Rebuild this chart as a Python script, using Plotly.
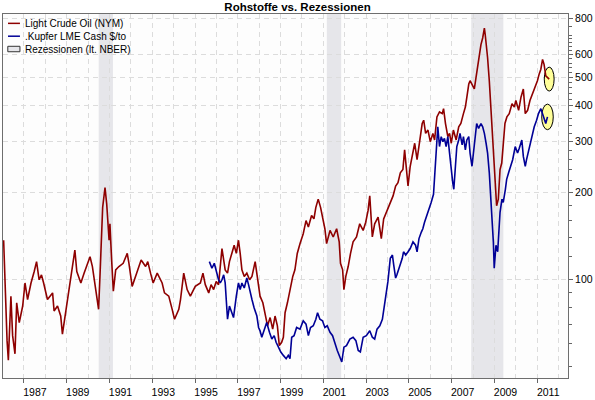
import datetime as dt
import math
import plotly.graph_objects as go

# ---------------- data ----------------
oil_years = [
    1986.05, 1986.11, 1986.16, 1986.21, 1986.27, 1986.39, 1986.47, 1986.58, 1986.66, 1986.78,
    1986.94, 1987.05, 1987.17, 1987.33, 1987.48, 1987.59, 1987.71, 1987.82, 1987.92, 1988.10,
    1988.34, 1988.41, 1988.57, 1988.72, 1988.80, 1988.88, 1989.03, 1989.16, 1989.27, 1989.38,
    1989.47, 1989.66, 1989.81, 1990.09, 1990.20, 1990.36, 1990.49, 1990.56, 1990.62, 1990.68,
    1990.79, 1990.87, 1990.98, 1991.02, 1991.10, 1991.18, 1991.29, 1991.44, 1991.64, 1991.83,
    1991.91, 1992.06, 1992.27, 1992.48, 1992.69, 1992.79, 1992.92, 1993.04, 1993.23, 1993.46,
    1993.57, 1993.77, 1993.93, 1994.04, 1994.24, 1994.32, 1994.47, 1994.63, 1994.78, 1995.01,
    1995.25, 1995.37, 1995.48, 1995.64, 1995.75, 1995.87, 1995.99, 1996.10, 1996.26, 1996.41,
    1996.52, 1996.61, 1996.72, 1996.83, 1996.93, 1997.03, 1997.11, 1997.19, 1997.30, 1997.42,
    1997.55, 1997.66, 1997.81, 1997.92, 1998.04, 1998.17, 1998.28, 1998.39, 1998.51, 1998.63,
    1998.74, 1998.85, 1998.94, 1999.05, 1999.13, 1999.21, 1999.32, 1999.44, 1999.57, 1999.67,
    1999.78, 1999.91, 2000.06, 2000.19, 2000.30, 2000.45, 2000.56, 2000.65, 2000.76, 2000.87,
    2000.96, 2001.07, 2001.15, 2001.31, 2001.46, 2001.62, 2001.74, 2001.80, 2001.90, 2001.96,
    2002.05, 2002.16, 2002.27, 2002.39, 2002.55, 2002.70, 2002.86, 2002.98, 2003.09, 2003.17,
    2003.29, 2003.40, 2003.56, 2003.71, 2003.82, 2003.95, 2004.13, 2004.26, 2004.38, 2004.49,
    2004.60, 2004.72, 2004.80, 2004.88, 2004.96, 2005.06, 2005.19, 2005.27, 2005.38, 2005.50,
    2005.62, 2005.69, 2005.78, 2005.89, 2006.00, 2006.12, 2006.20, 2006.31, 2006.43, 2006.56,
    2006.62, 2006.71, 2006.82, 2006.90, 2006.98, 2007.08, 2007.21, 2007.33, 2007.43, 2007.55,
    2007.64, 2007.71, 2007.80, 2007.86, 2007.95, 2008.06, 2008.14, 2008.22, 2008.30, 2008.37,
    2008.45, 2008.53, 2008.57, 2008.64, 2008.68, 2008.76, 2008.84, 2008.92, 2008.96, 2009.03,
    2009.10, 2009.18, 2009.26, 2009.34, 2009.41, 2009.49, 2009.58, 2009.69, 2009.82, 2009.93,
    2010.00, 2010.13, 2010.24, 2010.35, 2010.44, 2010.55, 2010.66, 2010.78, 2010.90, 2011.01,
    2011.09, 2011.17, 2011.25, 2011.32, 2011.40, 2011.48, 2011.56,
]
oil_values = [
    136.6, 99.7, 78.8, 61.4, 52.5, 87.5, 63.9, 55.3, 83.0, 70.9,
    80.9, 97.2, 85.2, 97.2, 106.5, 115.2, 99.7, 103.7, 97.2, 85.2,
    89.8, 77.8, 80.9, 74.7, 64.7, 70.9, 87.5, 99.7, 110.8, 126.3,
    106.5, 97.2, 105.1, 119.8, 110.8, 92.2, 78.8, 105.1, 143.9, 177.5,
    207.7, 182.2, 136.6, 155.7, 116.7, 91.0, 107.9, 110.8, 113.7, 123.0,
    113.7, 94.6, 105.1, 116.7, 110.8, 115.2, 105.1, 97.2, 105.1, 97.2,
    89.8, 87.5, 78.8, 72.8, 78.8, 85.2, 105.1, 92.2, 87.5, 94.6,
    97.2, 105.1, 95.9, 89.8, 95.9, 92.2, 98.4, 95.9, 127.9, 107.9,
    105.1, 115.2, 123.0, 131.3, 123.0, 136.6, 123.0, 107.9, 102.4, 105.1,
    99.7, 102.4, 115.2, 99.7, 87.5, 83.0, 76.7, 69.1, 73.8, 67.3,
    74.7, 69.1, 59.0, 60.6, 63.1, 76.7, 83.0, 92.2, 102.4, 107.9,
    123.0, 133.0, 143.9, 159.8, 151.7, 166.3, 161.9, 177.5, 189.5, 177.5,
    164.1, 149.7, 133.0, 147.7, 140.2, 149.7, 134.8, 113.7, 107.9, 92.2,
    102.4, 110.8, 123.0, 134.8, 140.2, 155.7, 147.7, 157.7, 172.9, 194.5,
    140.2, 155.7, 164.1, 138.4, 161.9, 170.7, 184.6, 194.5, 210.4, 216.0,
    233.7, 239.9, 280.7, 239.9, 210.4, 246.2, 273.5, 295.8, 259.5, 295.8,
    346.1, 355.3, 320.0, 328.5, 299.6, 320.0, 303.6, 364.8, 379.4, 374.5,
    389.5, 346.1, 311.7, 320.0, 295.8, 328.5, 303.6, 337.2, 346.1, 374.5,
    394.6, 426.9, 474.0, 486.6, 474.0, 455.7, 499.4, 554.6, 600.0, 649.0,
    684.0, 740.0, 702.0, 632.0, 584.6, 486.6, 384.4, 303.6, 259.5, 205.0,
    179.8, 189.4, 239.9, 252.7, 303.6, 346.1, 364.8, 374.5, 405.1, 394.6,
    415.8, 384.4, 426.9, 455.7, 374.5, 384.4, 415.8, 438.2, 461.8, 486.6,
    512.8, 533.3, 576.9, 554.6, 506.0, 499.4, 493.0,
]

copper_years = [
    1995.67, 1995.79, 1995.90, 1995.99, 1996.10, 1996.18, 1996.26, 1996.34, 1996.41, 1996.46,
    1996.52, 1996.61, 1996.72, 1996.80, 1996.93, 1997.03, 1997.11, 1997.19, 1997.30, 1997.42,
    1997.50, 1997.58, 1997.66, 1997.76, 1997.89, 1997.97, 1998.04, 1998.12, 1998.23, 1998.35,
    1998.48, 1998.59, 1998.70, 1998.79, 1998.90, 1999.01, 1999.13, 1999.26, 1999.36, 1999.44,
    1999.52, 1999.63, 1999.75, 1999.91, 2000.06, 2000.19, 2000.30, 2000.40, 2000.53, 2000.65,
    2000.73, 2000.84, 2000.96, 2001.07, 2001.18, 2001.31, 2001.43, 2001.54, 2001.65, 2001.77,
    2001.86, 2001.96, 2002.08, 2002.24, 2002.39, 2002.52, 2002.63, 2002.73, 2002.86, 2003.01,
    2003.17, 2003.29, 2003.40, 2003.51, 2003.64, 2003.76, 2003.82, 2003.92, 2004.02, 2004.13,
    2004.23, 2004.29, 2004.38, 2004.44, 2004.54, 2004.60, 2004.69, 2004.75, 2004.85, 2004.96,
    2005.06, 2005.19, 2005.31, 2005.38, 2005.47, 2005.58, 2005.65, 2005.73, 2005.84, 2005.93,
    2006.04, 2006.15, 2006.25, 2006.31, 2006.35, 2006.43, 2006.51, 2006.59, 2006.66, 2006.74,
    2006.82, 2006.90, 2006.98, 2007.05, 2007.10, 2007.18, 2007.24, 2007.33, 2007.39, 2007.49,
    2007.55, 2007.64, 2007.71, 2007.80, 2007.86, 2007.95, 2008.02, 2008.11, 2008.17, 2008.26,
    2008.37, 2008.45, 2008.53, 2008.61, 2008.68, 2008.76, 2008.84, 2008.89, 2008.95, 2008.99,
    2009.07, 2009.15, 2009.20, 2009.26, 2009.35, 2009.41, 2009.51, 2009.57, 2009.66, 2009.77,
    2009.85, 2009.97, 2010.08, 2010.16, 2010.28, 2010.35, 2010.44, 2010.50, 2010.63, 2010.75,
    2010.86, 2010.97, 2011.06, 2011.17, 2011.25, 2011.32, 2011.40, 2011.48,
]
copper_values = [
    115.2, 109.3, 113.7, 106.5, 99.7, 97.2, 99.7, 103.7, 97.2, 85.2,
    72.8, 80.9, 76.7, 73.8, 87.5, 97.2, 92.2, 97.2, 93.4, 101.1,
    95.9, 89.8, 85.2, 79.8, 74.7, 68.2, 66.4, 63.1, 67.3, 70.9,
    65.6, 62.2, 63.9, 60.6, 58.3, 56.1, 54.6, 53.2, 54.6, 53.2,
    63.1, 63.9, 68.2, 67.3, 71.9, 70.0, 63.9, 68.2, 69.1, 72.8,
    76.7, 72.8, 71.9, 68.2, 69.1, 65.6, 63.9, 59.8, 56.8, 53.9,
    51.8, 58.3, 59.0, 62.2, 63.1, 61.4, 56.8, 56.1, 63.1, 63.9,
    66.4, 63.1, 62.2, 67.3, 69.1, 72.8, 77.8, 86.4, 98.4, 118.3,
    121.4, 112.2, 101.1, 103.7, 109.3, 112.2, 118.3, 124.6, 121.4, 124.6,
    127.9, 134.8, 131.3, 124.6, 138.4, 145.8, 149.7, 157.7, 166.3, 175.1,
    184.6, 197.0, 266.4, 303.6, 337.2, 288.1, 311.7, 299.6, 307.6, 288.1,
    311.7, 273.5, 233.7, 216.0, 205.0, 239.9, 288.1, 303.6, 320.0, 292.0,
    311.7, 280.7, 303.6, 311.7, 273.5, 246.2, 273.5, 320.0, 346.1, 332.8,
    346.1, 337.2, 320.0, 295.8, 273.5, 233.7, 189.4, 170.7, 134.8, 109.3,
    131.3, 124.6, 149.7, 170.7, 189.4, 184.6, 205.0, 221.8, 233.7, 246.2,
    259.5, 288.1, 273.5, 284.4, 303.6, 266.4, 246.2, 259.5, 288.1, 311.7,
    337.2, 355.3, 374.5, 389.5, 374.5, 364.8, 346.1, 364.8,
]

recession_start = ["1990-07-01", "2001-03-01", "2007-12-01"]
recession_end = ["1991-03-01", "2001-11-01", "2009-06-01"]

tick_years = list(range(1987, 2012, 2))
y_tick_values = [100, 200, 300, 400, 500, 600, 800]
y_minor_values = [50, 60, 70, 80, 90, 120, 140, 160, 180, 220, 240, 260, 280,
                  320, 340, 360, 380, 420, 440, 460, 480, 520, 540, 560, 580,
                  620, 640, 660, 680, 700, 750]

series_names = ["Light Crude Oil (NYM)", ".Kupfer LME Cash $/to", "Rezessionen (lt. NBER)"]
title_text = "Rohstoffe vs. Rezessionen"

# ---------------- helpers ----------------
def to_date(y):
    year = int(math.floor(y))
    frac = y - year
    return dt.datetime(year, 1, 1) + dt.timedelta(days=frac * 365.25)

oil_dates = [to_date(v) for v in oil_years]
copper_dates = [to_date(v) for v in copper_years]

OIL = "#8E0000"
CU = "#000096"
FONT = "Liberation Sans"

fig = go.Figure()
fig.add_trace(go.Scatter(x=oil_dates, y=oil_values, mode="lines", name=series_names[0],
                         line=dict(color=OIL, width=1.6), showlegend=False))
fig.add_trace(go.Scatter(x=copper_dates, y=copper_values, mode="lines", name=series_names[1],
                         line=dict(color=CU, width=1.6), showlegend=False))

shapes = []
for s, e in zip(recession_start, recession_end):
    shapes.append(dict(type="rect", xref="x", yref="paper", x0=s, x1=e, y0=0, y1=1,
                       fillcolor="#E6E6EA", line=dict(width=0), layer="between"))

# highlight ellipses around the latest values (half-width in years, vertical factor)
for yrs, vals, hw, fac in [(oil_years, oil_values, 0.23, 1.10), (copper_years, copper_values, 0.27, 1.107)]:
    cx, cy = yrs[-1], vals[-1]
    shapes.append(dict(type="circle", xref="x", yref="y",
                       x0=to_date(cx - hw), x1=to_date(cx + hw), y0=cy / fac, y1=cy * fac,
                       fillcolor="#FFFF99", line=dict(color="#000000", width=1), layer="between"))

# manual legend (top-left inside the plot)
legend_rows = [0.9743, 0.9390, 0.9038]
shapes.append(dict(type="line", xref="paper", yref="paper", x0=0.0088, x1=0.030,
                   y0=legend_rows[0], y1=legend_rows[0], line=dict(color=OIL, width=1.5)))
shapes.append(dict(type="line", xref="paper", yref="paper", x0=0.0088, x1=0.030,
                   y0=legend_rows[1], y1=legend_rows[1], line=dict(color=CU, width=1.5)))
shapes.append(dict(type="rect", xref="paper", yref="paper", x0=0.0085, x1=0.030,
                   y0=legend_rows[2] - 0.0075, y1=legend_rows[2] + 0.0075,
                   fillcolor="#E6E6EA", line=dict(color="#333333", width=1)))

annotations = []
for name, yy in zip(series_names, legend_rows):
    annotations.append(dict(text=name, xref="paper", yref="paper", x=0.037, y=yy,
                            xanchor="left", yanchor="middle", showarrow=False, borderpad=0,
                            font=dict(family=FONT, size=10, color="#000000")))

grid = "#DCDCDC"
fig.update_layout(
    width=595, height=400,
    margin=dict(l=2, r=26, t=14, b=17),
    paper_bgcolor="#FFFFFF", plot_bgcolor="#FDFDFD",
    title=dict(text="<b>" + title_text + "</b>", x=0.5, xref="container", xanchor="center",
               y=1 - 7 / 400, yref="container", yanchor="middle",
               font=dict(family=FONT, size=11.5, color="#000000")),
    shapes=shapes, annotations=annotations,
    showlegend=False,
    xaxis=dict(
        type="date", range=[to_date(1986.02), to_date(2012.44)],
        tickmode="array", tickvals=[dt.datetime(y, 1, 1) for y in tick_years],
        ticktext=[str(y) for y in tick_years], ticklabelshift=11,
        ticks="outside", ticklen=4, tickcolor="#666666",
        showline=True, linecolor="#6E6E6E", linewidth=1, mirror=True,
        showgrid=True, gridcolor=grid, griddash="5px,4px", gridwidth=1,
        minor=dict(tickmode="linear", tick0="1986-01-01", dtick="M12", showgrid=True,
                   gridcolor=grid, griddash="5px,4px", ticks=""),
        tickfont=dict(family=FONT, size=10.5, color="#000000"),
        zeroline=False,
    ),
    yaxis=dict(
        type="log", side="right", range=[math.log10(45.6), math.log10(828)],
        tickmode="array", tickvals=y_tick_values, ticktext=[str(v) for v in y_tick_values],
        ticks="outside", ticklen=4, tickcolor="#666666",
        showline=True, linecolor="#6E6E6E", linewidth=1, mirror=True,
        showgrid=True, gridcolor=grid, griddash="5px,4px", gridwidth=1,
        minor=dict(tickmode="array", tickvals=y_minor_values, ticks="outside", ticklen=3,
                   tickcolor="#666666", showgrid=False),
        tickfont=dict(family=FONT, size=10.5, color="#000000"),
        zeroline=False,
    ),
)

fig.write_html("out.html")
